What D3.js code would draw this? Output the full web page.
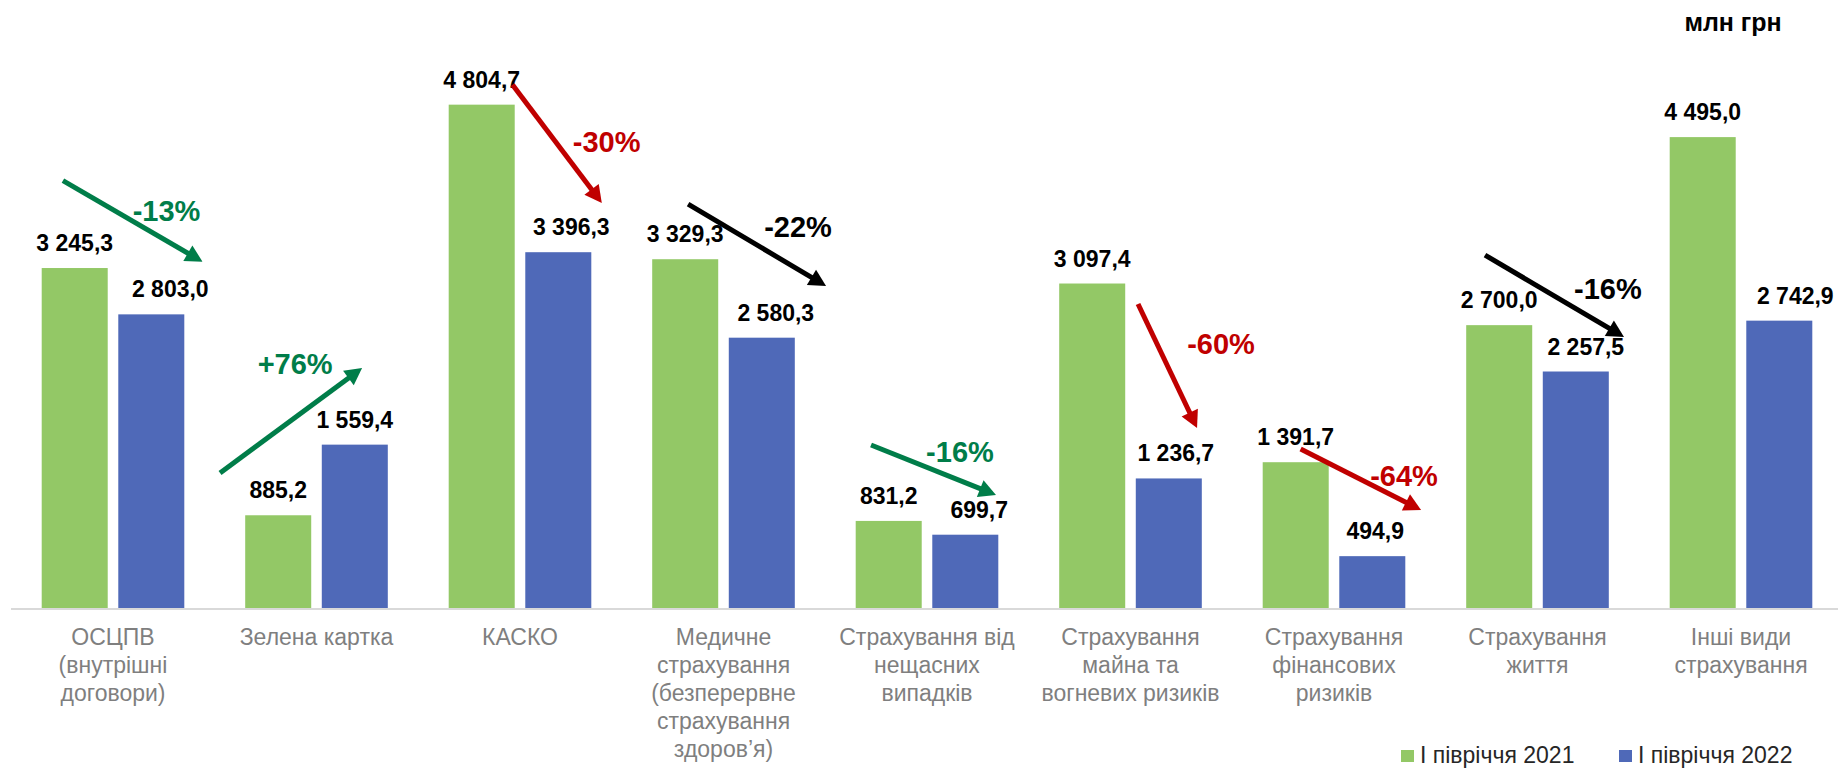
<!DOCTYPE html>
<html>
<head>
<meta charset="utf-8">
<script src="https://cdn.jsdelivr.net/npm/d3@7"></script>
<style>
  body { margin: 0; background: #fff; }
  svg { font-family: "Liberation Sans", Arial, sans-serif; }
</style>
</head>
<body>
<div class="canva"></div>
<script>
// categories (line-broken as in the source)
var categories = [
    ['ОСЦПВ', '(внутрішні', 'договори)'],
    ['Зелена картка'],
    ['КАСКО'],
    ['Медичне', 'страхування', '(безперервне', 'страхування', 'здоров’я)'],
    ['Страхування від', 'нещасних', 'випадків'],
    ['Страхування', 'майна та', 'вогневих ризиків'],
    ['Страхування', 'фінансових', 'ризиків'],
    ['Страхування', 'життя'],
    ['Інші види', 'страхування']
];

var series = ['І півріччя 2021', 'І півріччя 2022'];

var h2021 = [3245.3, 885.2, 4804.7, 3329.3, 831.2, 3097.4, 1391.7, 2700.0, 4495.0];
var h2022 = [2803.0, 1559.4, 3396.3, 2580.3, 699.7, 1236.7, 494.9, 2257.5, 2742.9];

// change labels, one per arrow
var changes = ['-13%', '+76%', '-30%', '-22%', '-16%', '-60%', '-64%', '-16%'];
var changeCat = [0, 1, 2, 3, 4, 5, 6, 7];
var changeColor = ['green', 'green', 'red', 'black', 'green', 'red', 'red', 'black'];

// arrow anchors in data space: [fraction of the group band, value]
var arrowFrom = [[0.254, 4080], [0.026, 1289], [0.463, 4995], [0.326, 3856], [0.225, 1556], [0.537, 2902], [0.336, 1518], [0.242, 3369]];
var arrowTo   = [[0.940, 3305], [0.724, 2291], [0.902, 3866], [1.004, 3073], [0.839, 1079], [0.827, 1718], [0.928, 935],  [0.925, 2587]];
var labelAt   = [[0.763, 3790], [0.395, 2329], [0.926, 4457], [0.866, 3637], [0.662, 1489], [0.945, 2529], [0.844, 1260], [0.846, 3054]];

var fmt = v => d3.format(',.1f')(v).replace(/,/g, ' ').replace('.', ',');

const W = 1838, H = 768;
const colors = {g21: '#93C866', g22: '#4F69B8'};
const arrowColors = {green: '#007D49', red: '#C00000', black: '#000000'};
// manual label nudges (px) for the 2022 value labels, as placed in the source
const nudge22 = [19, 0, 13, 14, 14, 7, 3, 10, 16];

const svg = d3.select('.canva').append('svg')
    .attr('width', W)
    .attr('height', H);

var x0 = d3.scaleBand()
    .domain(d3.range(categories.length))
    .range([11.25, 1842.75])
    .padding(0);

var x1 = d3.scaleBand()
    .domain(series)
    .range([30.45, 173.05])
    .paddingInner(0.138);

var y = d3.scaleLinear()
    .domain([0, 5000])
    .range([608, 84.2]);

var rows = categories.map((c, i) => ({i: i, vals: [h2021[i], h2022[i]]}));

// bars
var groups = svg.selectAll('g.grp')
    .data(rows)
    .enter().append('g')
    .attr('class', 'grp')
    .attr('transform', d => `translate(${x0(d.i)},0)`);

groups.selectAll('rect')
    .data(d => d.vals.map((v, k) => ({v: v, k: k})))
    .enter().append('rect')
    .attr('x', d => x1(series[d.k]))
    .attr('y', d => y(d.v))
    .attr('width', x1.bandwidth())
    .attr('height', d => y(0) - y(d.v))
    .attr('fill', d => d.k == 0 ? colors.g21 : colors.g22);

// value labels
groups.selectAll('text.val')
    .data(d => d.vals.map((v, k) => ({v: v, k: k, i: d.i})))
    .enter().append('text')
    .attr('class', 'val')
    .attr('x', d => x1(series[d.k]) + x1.bandwidth() / 2 + (d.k == 1 ? nudge22[d.i] : 0))
    .attr('y', d => y(d.v) - 17)
    .attr('text-anchor', 'middle')
    .attr('font-weight', 'bold')
    .attr('font-size', '23px')
    .attr('fill', '#000')
    .text(d => fmt(d.v));

// x axis line
svg.append('line')
    .attr('x1', 11).attr('x2', W)
    .attr('y1', y(0) + 1).attr('y2', y(0) + 1)
    .attr('stroke', '#D9D9D9')
    .attr('stroke-width', 2);

// category labels
categories.forEach((lines, i) => {
    var t = svg.append('text')
        .attr('text-anchor', 'middle')
        .attr('font-size', '23px')
        .attr('fill', '#7F7F7F');
    lines.forEach((ln, j) => {
        t.append('tspan')
            .attr('x', x0(i) + x0.bandwidth() / 2)
            .attr('y', 645 + j * 28)
            .text(ln);
    });
});

// arrows
var px = (cat, p) => [x0(cat) + p[0] * x0.step(), y(p[1])];
var headLen = 17, headW = 18;

changes.forEach((lab, a) => {
    var c = arrowColors[changeColor[a]];
    var s = px(changeCat[a], arrowFrom[a]);
    var e = px(changeCat[a], arrowTo[a]);
    var dx = e[0] - s[0], dy = e[1] - s[1];
    var len = Math.sqrt(dx * dx + dy * dy);
    var ux = dx / len, uy = dy / len;
    var bx = e[0] - ux * headLen, by = e[1] - uy * headLen;

    svg.append('line')
        .attr('x1', s[0]).attr('y1', s[1])
        .attr('x2', bx + ux * 2).attr('y2', by + uy * 2)
        .attr('stroke', c)
        .attr('stroke-width', 5);

    svg.append('path')
        .attr('d', d3.line()([
            e,
            [bx - uy * headW / 2, by + ux * headW / 2],
            [bx + uy * headW / 2, by - ux * headW / 2]
        ]) + 'Z')
        .attr('fill', c);

    var l = px(changeCat[a], labelAt[a]);
    svg.append('text')
        .attr('x', l[0])
        .attr('y', l[1])
        .attr('dy', '0.36em')
        .attr('text-anchor', 'middle')
        .attr('font-weight', 'bold')
        .attr('font-size', '29px')
        .attr('fill', c)
        .text(lab);
});

// unit
svg.append('text')
    .attr('x', 1733)
    .attr('y', 31)
    .attr('text-anchor', 'middle')
    .attr('font-weight', 'bold')
    .attr('font-size', '25px')
    .text('млн грн');

// legend
var legX = [1401, 1619];
series.forEach((s, k) => {
    svg.append('rect')
        .attr('x', legX[k]).attr('y', 750)
        .attr('width', 13).attr('height', 12)
        .attr('fill', k == 0 ? colors.g21 : colors.g22);
    svg.append('text')
        .attr('x', legX[k] + 19)
        .attr('y', 763)
        .attr('font-size', '23px')
        .attr('fill', '#262626')
        .text(s);
});
</script>
</body>
</html>
